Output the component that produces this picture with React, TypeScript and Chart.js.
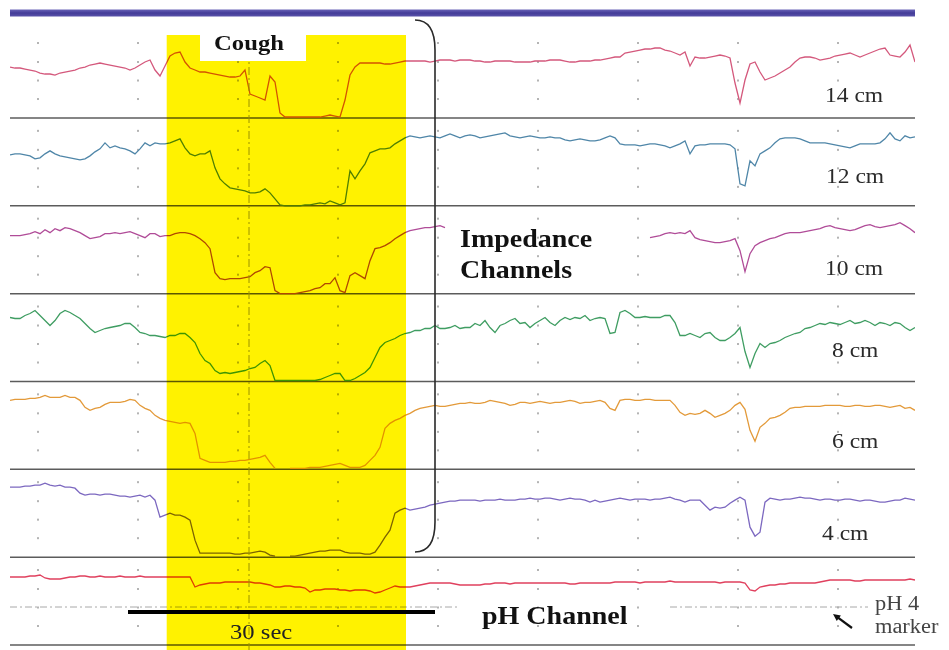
import React, { useEffect, useRef } from "react";
import { Chart, registerables } from "chart.js";
Chart.register(...registerables);

const SAMPLE_STEP_S = 0.5; // seconds between samples
const LANE_HEIGHT = 87.83; // amplitude units per channel lane
const TICK_SECONDS = [2.8, 12.8, 22.8, 32.8, 42.8, 52.8, 62.8, 72.8, 82.8];
const DOT_LEVELS = [19, 37.5, 56, 75];
const X_MAX = 90.5;
const Y_MIN = -5;
const Y_MAX = 645;

const N = null;

const CH14 = [
  51,50,50,49,48,47,45,44,44,43,45,46,47,48,50,51,53,54,55,54,
  53,52,51,50,48,50,53,56,58,48,42,52,62,65,66,56,50,48,46,46,
  45,44,43,42,41,41,42,48,24,22,20,18,42,36,5,1,1,1,1,1,
  1,1,1,2,3,2,1,18,43,51,55,55,55,55,55,54,54,55,56,57,
  57,57,57,57,56,57,58,58,58,57,58,58,58,57,57,56,56,57,57,57,
  57,56,56,56,56,57,57,57,58,58,58,57,56,56,57,57,57,58,58,59,
  60,61,61,65,66,67,68,69,69,70,70,68,67,65,63,66,52,61,60,60,
  61,62,63,62,60,35,15,38,54,56,46,38,40,42,45,48,51,56,60,61,
  61,60,58,59,60,62,63,64,65,63,61,63,65,67,69,70,63,62,61,66,
  73,56,
];
const CH12 = [
  51,52,52,51,50,47,48,52,55,52,50,49,48,47,46,47,50,54,57,63,
  58,60,58,57,55,52,57,63,60,63,62,62,63,65,67,58,52,50,52,52,
  55,38,27,22,18,17,16,15,13,13,14,17,13,7,1,0,0,0,0,1,
  1,2,3,2,5,3,1,3,35,27,35,42,53,55,57,57,58,62,65,68,
  70,69,68,69,70,69,68,70,72,70,68,70,71,70,68,69,70,71,72,73,
  70,69,68,69,70,69,68,68,69,68,68,66,65,66,67,66,65,65,66,68,
  70,68,62,61,61,61,60,61,62,62,61,60,58,60,62,65,52,60,61,61,
  62,62,62,62,61,57,22,20,45,40,52,55,58,63,67,68,68,68,67,65,
  63,63,63,63,62,61,60,59,58,60,62,62,62,62,63,67,73,67,65,70,
  68,69,
];
const CH10 = [
  58,58,58,59,60,62,60,64,61,65,63,66,65,63,61,58,55,56,57,60,
  60,61,60,61,62,60,58,56,60,60,57,58,58,60,61,61,60,58,55,51,
  45,21,15,14,15,15,15,16,17,21,23,27,26,3,0,0,0,0,1,2,
  3,5,6,10,10,16,3,1,18,21,18,15,33,45,46,48,51,55,58,61,
  63,64,65,66,66,67,68,66,N,N,N,N,N,N,N,N,N,N,N,N,
  N,N,N,N,N,N,N,N,N,N,N,N,N,N,N,N,N,N,N,N,
  N,N,N,N,N,N,N,N,56,57,58,60,61,60,61,60,63,56,54,53,
  52,51,51,52,53,55,43,22,40,48,51,53,55,56,58,60,61,61,61,62,
  63,64,65,67,68,66,65,64,63,64,66,68,69,67,66,67,68,69,71,68,
  65,61,
];
const CH8 = [
  64,63,63,66,68,71,66,61,56,61,68,71,69,66,63,58,53,49,51,53,
  54,55,56,58,58,54,49,48,46,46,45,44,46,46,48,48,44,39,28,21,
  18,11,8,9,8,9,10,11,13,14,18,21,16,1,1,1,1,1,1,1,
  1,1,2,4,6,8,8,1,1,3,6,9,14,24,34,39,41,43,46,48,
  49,51,51,53,53,56,53,53,54,56,53,54,54,58,56,61,54,49,56,58,
  61,63,58,59,54,58,61,64,59,56,61,64,62,64,63,66,61,63,64,63,
  48,49,69,71,68,64,64,65,64,64,64,66,66,59,46,46,48,46,44,48,
  49,44,41,41,44,48,54,30,14,28,38,34,38,39,41,44,46,48,49,53,
  54,56,58,57,59,58,57,59,61,58,59,61,59,56,59,58,56,59,58,54,
  51,54,
];
const CH6 = [
  69,70,70,70,71,71,72,74,72,72,72,74,72,72,69,62,59,61,62,65,
  67,67,67,68,70,69,64,61,59,54,51,49,48,47,46,47,46,36,11,9,
  7,7,7,7,8,8,9,9,10,11,12,14,7,1,N,N,1,1,1,1,
  2,2,2,3,4,5,6,4,2,2,2,4,9,14,22,41,46,49,51,54,
  56,59,61,62,63,64,63,63,64,65,66,66,67,66,66,67,69,68,67,66,
  64,65,67,67,66,67,68,67,66,67,67,68,69,68,66,67,67,68,69,67,
  61,59,69,70,70,69,69,70,70,69,69,69,69,64,57,54,56,55,56,59,
  56,52,54,56,59,64,67,60,39,28,42,46,51,52,54,57,61,62,62,63,
  63,63,63,64,64,64,64,63,63,64,64,63,63,64,64,63,62,63,64,61,
  62,59,
];
const CH4 = [
  70,70,70,71,71,72,72,74,72,71,72,70,70,69,64,62,63,63,62,63,
  63,62,61,61,60,61,62,60,62,57,40,42,44,42,42,40,37,17,4,4,
  4,4,4,4,4,3,3,4,4,5,6,5,2,1,N,N,1,1,2,3,
  4,5,6,6,7,7,7,5,4,4,4,3,3,5,12,20,27,44,47,49,
  47,48,49,50,52,53,54,55,56,56,57,57,57,57,56,57,57,57,58,57,
  57,57,58,58,59,58,58,59,59,58,57,58,59,58,58,57,55,57,55,56,
  57,58,59,58,57,58,58,58,57,58,58,59,60,58,57,55,57,57,57,52,
  47,50,49,50,54,57,60,57,30,21,25,55,59,58,57,58,58,59,60,59,
  59,58,57,58,58,57,57,58,58,57,56,57,57,56,55,55,56,57,57,59,
  58,57,
];
const PH = [
  68,68,68,68,69,69,70,67,66,66,66,67,68,68,69,69,68,68,69,68,
  68,68,69,68,68,68,69,68,68,68,68,68,68,68,68,68,68,58,60,61,
  62,62,62,63,63,63,63,63,63,62,62,61,60,58,58,59,59,58,58,57,
  53,55,55,56,56,56,55,55,54,55,55,55,54,52,53,55,57,59,58,58,
  58,59,60,61,62,62,62,62,62,61,60,60,60,60,60,61,61,62,62,62,
  61,62,62,62,62,62,62,62,62,62,62,62,61,61,62,62,62,62,62,62,
  62,63,63,63,63,63,62,63,63,63,63,63,64,63,63,63,63,63,63,63,
  63,63,62,63,63,63,63,62,55,54,58,59,60,60,61,61,62,62,62,62,
  62,62,63,64,65,65,65,65,65,64,64,65,65,65,65,65,65,65,65,65,
  66,65,
];

const CHANNEL_NAMES = ["14 cm", "12 cm", "10 cm", "8 cm", "6 cm", "4 cm", "pH"];
const CHANNEL_VALUES = [CH14, CH12, CH10, CH8, CH6, CH4, PH];
const CHANNEL_LANES = [6, 5, 4, 3, 2, 1, 0];

// ---------- styling / annotation layout ----------
const CHANNEL_COLORS = ["#d4587c", "#4f86a8", "#b04c98", "#3f9d62", "#e39a3a", "#7c68c0", "#e0405e"];
const LABEL_POS = [
  [81.5, 543], [81.6, 462], [81.5, 370], [82.2, 288], [82.2, 197], [81.2, 105],
];
const COUGH_START = 15.67;
const COUGH_END = 39.6;
const COUGH_TOP = 610;
const COUGH_BOX = [19, 29.6, 584];
const MARK_T = 23.9;
const BAR_30S = [11.8, 42.5, 33];
const PH4_LEVEL = 38;
const PH4_SEGMENTS = [[0, 45], [66, 85.8]];
const HSCALE = 1.12;

function drawText(ctx, text, px, py, font, color, align = "left") {
  ctx.save();
  ctx.translate(px, py);
  ctx.scale(HSCALE, 1);
  ctx.font = font;
  ctx.fillStyle = color;
  ctx.textAlign = align;
  ctx.textBaseline = "alphabetic";
  ctx.fillText(text, 0, 0);
  ctx.restore();
}

const tracingPlugin = {
  id: "tracing",
  beforeDatasetsDraw(chart) {
    const { ctx, chartArea, scales } = chart;
    const x = scales.x, y = scales.y;
    ctx.save();
    // top bar
    const barY = y.getPixelForValue(632);
    const grad = ctx.createLinearGradient(0, barY - 3.5, 0, barY + 3.5);
    grad.addColorStop(0, "#6a64b8");
    grad.addColorStop(0.5, "#433c98");
    grad.addColorStop(1, "#5a53aa");
    ctx.fillStyle = grad;
    ctx.fillRect(chartArea.left, barY - 3.5, chartArea.right - chartArea.left, 7);
    // grid dots
    ctx.fillStyle = "#b4b4b4";
    for (const t of TICK_SECONDS) {
      const px = x.getPixelForValue(t);
      for (let lane = 0; lane <= 6; lane++) {
        for (const lv of DOT_LEVELS) {
          const py = y.getPixelForValue(lane * LANE_HEIGHT + lv);
          ctx.fillRect(px - 1, py - 1, 2, 2);
        }
      }
    }
    // lane separators
    ctx.strokeStyle = "#5c5c5c";
    ctx.lineWidth = 1.5;
    for (let lane = 0; lane <= 6; lane++) {
      const py = y.getPixelForValue(lane * LANE_HEIGHT);
      ctx.beginPath();
      ctx.moveTo(chartArea.left, py);
      ctx.lineTo(chartArea.right, py);
      ctx.stroke();
    }
    // pH 4 marker
    ctx.strokeStyle = "#a8a8a8";
    ctx.lineWidth = 1;
    ctx.setLineDash([7, 3, 2, 3]);
    for (const [a, b] of PH4_SEGMENTS) {
      const py = y.getPixelForValue(PH4_LEVEL);
      ctx.beginPath();
      ctx.moveTo(x.getPixelForValue(a), py);
      ctx.lineTo(x.getPixelForValue(b), py);
      ctx.stroke();
    }
    ctx.setLineDash([]);
    ctx.restore();
  },
  afterDatasetsDraw(chart) {
    const { ctx, scales } = chart;
    const x = scales.x, y = scales.y;
    ctx.save();
    // dash-dot time marker
    ctx.strokeStyle = "#9a9a9a";
    ctx.lineWidth = 1;
    ctx.setLineDash([8, 3, 2, 3]);
    ctx.beginPath();
    ctx.moveTo(x.getPixelForValue(MARK_T), y.getPixelForValue(COUGH_TOP));
    ctx.lineTo(x.getPixelForValue(MARK_T), y.getPixelForValue(Y_MIN));
    ctx.stroke();
    ctx.setLineDash([]);
    // cough period highlight (multiply)
    const x0 = x.getPixelForValue(COUGH_START), x1 = x.getPixelForValue(COUGH_END);
    const yt = y.getPixelForValue(COUGH_TOP), yb = y.getPixelForValue(Y_MIN);
    ctx.globalCompositeOperation = "multiply";
    ctx.fillStyle = "#fff200";
    ctx.fillRect(x0, yt, x1 - x0, yb - yt);
    ctx.globalCompositeOperation = "source-over";
    // white label box
    const bx0 = x.getPixelForValue(COUGH_BOX[0]), bx1 = x.getPixelForValue(COUGH_BOX[1]);
    const by = y.getPixelForValue(COUGH_BOX[2]);
    ctx.fillStyle = "#ffffff";
    ctx.fillRect(bx0, yt, bx1 - bx0, by - yt);
    // bracket
    const bl = x.getPixelForValue(40.5), br = x.getPixelForValue(42.5);
    const btop = y.getPixelForValue(625), bbot = y.getPixelForValue(93);
    ctx.strokeStyle = "#2a2a2a";
    ctx.lineWidth = 1.6;
    ctx.beginPath();
    ctx.moveTo(bl, btop);
    ctx.quadraticCurveTo(br, btop, br, btop + 30);
    ctx.lineTo(br, bbot - 30);
    ctx.quadraticCurveTo(br, bbot, bl, bbot);
    ctx.stroke();
    // 30 sec bar
    ctx.strokeStyle = "#000";
    ctx.lineWidth = 4;
    ctx.beginPath();
    ctx.moveTo(x.getPixelForValue(BAR_30S[0]), y.getPixelForValue(BAR_30S[2]));
    ctx.lineTo(x.getPixelForValue(BAR_30S[1]), y.getPixelForValue(BAR_30S[2]));
    ctx.stroke();
    // arrow
    const ax0 = x.getPixelForValue(84.2), ay0 = y.getPixelForValue(17);
    const ax1 = x.getPixelForValue(82.3), ay1 = y.getPixelForValue(31);
    ctx.strokeStyle = "#111";
    ctx.fillStyle = "#111";
    ctx.lineWidth = 2.2;
    ctx.beginPath();
    ctx.moveTo(ax0, ay0);
    ctx.lineTo(ax1 + 3, ay1 + 2.2);
    ctx.stroke();
    const ang = Math.atan2(ay1 - ay0, ax1 - ax0);
    ctx.beginPath();
    ctx.moveTo(ax1, ay1);
    ctx.lineTo(ax1 - 8 * Math.cos(ang - 0.45), ay1 - 8 * Math.sin(ang - 0.45));
    ctx.lineTo(ax1 - 8 * Math.cos(ang + 0.45), ay1 - 8 * Math.sin(ang + 0.45));
    ctx.closePath();
    ctx.fill();
    ctx.restore();

    // texts
    const serif = '"Liberation Serif", "Times New Roman", serif';
    drawText(ctx, "Cough", x.getPixelForValue(23.9), y.getPixelForValue(595), `bold 22px ${serif}`, "#111", "center");
    for (let i = 0; i < LABEL_POS.length; i++) {
      const [t, v] = LABEL_POS[i];
      drawText(ctx, CHANNEL_NAMES[i], x.getPixelForValue(t), y.getPixelForValue(v), `21px ${serif}`, "#2a2a2a");
    }
    drawText(ctx, "Impedance", x.getPixelForValue(45), y.getPixelForValue(398), `bold 25px ${serif}`, "#111");
    drawText(ctx, "Channels", x.getPixelForValue(45), y.getPixelForValue(367), `bold 25px ${serif}`, "#111");
    drawText(ctx, "pH Channel", x.getPixelForValue(47.2), y.getPixelForValue(21), `bold 25px ${serif}`, "#111");
    drawText(ctx, "30 sec", x.getPixelForValue(22), y.getPixelForValue(6), `22px ${serif}`, "#222");
    drawText(ctx, "pH 4", x.getPixelForValue(86.5), y.getPixelForValue(35), `20px ${serif}`, "#444");
    drawText(ctx, "marker", x.getPixelForValue(86.5), y.getPixelForValue(12), `20px ${serif}`, "#444");
  },
};

export default function App() {
  const ref = useRef<HTMLCanvasElement | null>(null);
  useEffect(() => {
    if (!ref.current) return;
    const datasets = CHANNEL_VALUES.map((vals, c) => ({
      label: CHANNEL_NAMES[c],
      data: vals.map((h, i) => ({
        x: i * SAMPLE_STEP_S,
        y: h == null ? null : CHANNEL_LANES[c] * LANE_HEIGHT + h,
      })),
      borderColor: CHANNEL_COLORS[c],
      borderWidth: 1.3,
      pointRadius: 0,
      tension: 0,
      spanGaps: false,
      fill: false,
    }));
    const chart = new Chart(ref.current, {
      type: "line",
      data: { datasets },
      options: {
        animation: false,
        responsive: false,
        maintainAspectRatio: false,
        devicePixelRatio: 1,
        events: [],
        layout: { padding: { left: 10, right: 34, top: 0, bottom: 0 } },
        plugins: { legend: { display: false }, tooltip: { enabled: false }, title: { display: false } },
        scales: {
          x: { type: "linear", min: 0, max: X_MAX, display: false },
          y: { type: "linear", min: Y_MIN, max: Y_MAX, display: false },
        },
      },
      plugins: [tracingPlugin],
    });
    return () => chart.destroy();
  }, []);
  return (
    <div style={{ position: "fixed", left: 0, top: 0, width: 949, height: 650, background: "#fff" }}>
      <canvas ref={ref} width={949} height={650} style={{ display: "block" }} />
    </div>
  );
}
